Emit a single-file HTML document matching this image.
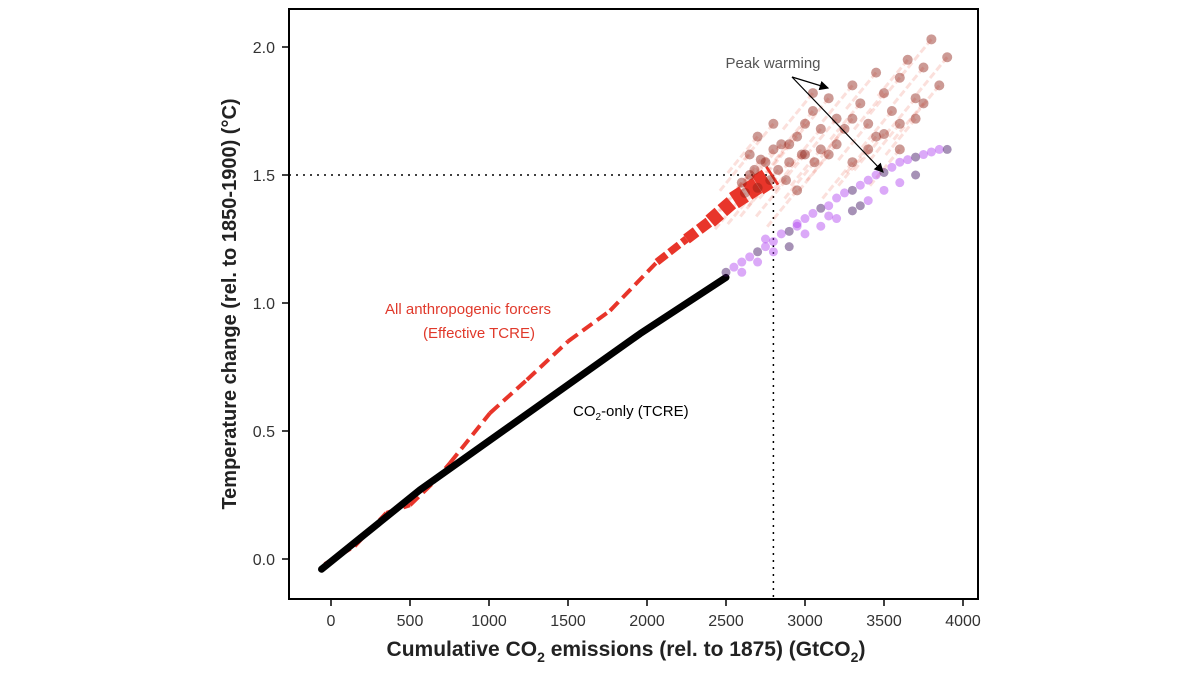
<!DOCTYPE html>
<html><head><meta charset="utf-8"><style>
body{margin:0;background:#fff;}
svg{display:block;font-family:"Liberation Sans",sans-serif;}
</style></head><body>
<svg id="c" width="1200" height="675">
<rect x="289" y="9" width="689" height="590" fill="none" stroke="#000" stroke-width="2"/>
<g id="ticks"></g>
<g id="marks"></g>
<text x="626" y="656" text-anchor="middle" font-size="21" font-weight="bold" fill="#222">Cumulative CO<tspan font-size="14" dy="6">2</tspan><tspan dy="-6"> emissions (rel. to 1875) (GtCO</tspan><tspan font-size="14" dy="6">2</tspan><tspan dy="-6">)</tspan></text>
<text transform="translate(236,304) rotate(-90)" text-anchor="middle" font-size="20" font-weight="bold" fill="#222">Temperature change (rel. to 1850-1900) (°C)</text>
<text x="468" y="314" text-anchor="middle" font-size="15" fill="#e0392b">All anthropogenic forcers</text>
<text x="479" y="338" text-anchor="middle" font-size="15" fill="#e0392b">(Effective TCRE)</text>
<text x="573" y="416" font-size="15" fill="#000">CO<tspan font-size="10" dy="4">2</tspan><tspan dy="-4">-only (TCRE)</tspan></text>
<text x="773" y="68" text-anchor="middle" font-size="15" fill="#555">Peak warming</text>
<defs><marker id="ah" markerWidth="8" markerHeight="8" refX="7" refY="4" orient="auto"><path d="M0,0L8,4L0,8z" fill="#000"/></marker></defs>
<line x1="792" y1="77" x2="828" y2="88" stroke="#000" stroke-width="1.2" marker-end="url(#ah)"/>
<line x1="792" y1="77" x2="883" y2="172" stroke="#000" stroke-width="1.2" marker-end="url(#ah)"/>
</svg>
<script>
const xTicks=[0,500,1000,1500,2000,2500,3000,3500,4000];
const yTicks=[0.0,0.5,1.0,1.5,2.0];
const co2X=[-60,563,1956,2500];
const co2Y=[-0.04,0.27,0.88,1.1];
const anthroX=[-40,150,350,500,650,753,1006,1240,1500,1766,2063,2250,2400,2550,2700,2800];
const anthroY=[-0.02,0.05,0.18,0.21,0.3,0.375,0.57,0.70,0.85,0.97,1.16,1.25,1.32,1.40,1.46,1.5];
const redDotX=[2600,2650,2700,2750,2800,2850,2900,2950,3000,3050,3100,3150,3200,3250,3300,3350,3400,3450,3500,3550,3600,3650,3700,3750,3800,3900,3850,2880,3000,3100,3200,3300,3400,3500,3600,3700,2700,2800,3050,3300,3450,3150,3600,3750,2950,2650,2620,2680,2720,2780,2830,2900,2980,3060];
const redDotY=[1.47,1.5,1.45,1.55,1.6,1.62,1.55,1.65,1.7,1.75,1.6,1.8,1.72,1.68,1.85,1.78,1.7,1.9,1.82,1.75,1.88,1.95,1.8,1.92,2.03,1.96,1.85,1.48,1.58,1.68,1.62,1.55,1.6,1.66,1.7,1.72,1.65,1.7,1.82,1.72,1.65,1.58,1.6,1.78,1.44,1.58,1.43,1.52,1.56,1.48,1.52,1.62,1.58,1.55];
const purpX=[2500,2550,2600,2650,2700,2750,2800,2850,2900,2950,3000,3050,3100,3150,3200,3250,3300,3350,3400,3450,3500,3550,3600,3650,3700,3750,3800,3850,3900,2600,2700,2800,2900,3000,3100,3200,3300,3400,3500,3600,3700,2750,2950,3150,3350];
const purpY=[1.12,1.14,1.16,1.18,1.2,1.22,1.24,1.27,1.28,1.31,1.33,1.35,1.37,1.38,1.41,1.43,1.44,1.46,1.48,1.5,1.51,1.53,1.55,1.56,1.57,1.58,1.59,1.6,1.6,1.12,1.16,1.2,1.22,1.27,1.3,1.33,1.36,1.4,1.44,1.47,1.5,1.25,1.3,1.34,1.38];
const refLineX=2800, refLineY=1.5;
const NS='http://www.w3.org/2000/svg';
const X=v=>331+v/500*79, Y=v=>559-v*256;
const T=document.getElementById('ticks'), M=document.getElementById('marks');
function mk(tag,attrs,parent){const e=document.createElementNS(NS,tag);for(const k in attrs)e.setAttribute(k,attrs[k]);parent.appendChild(e);return e;}
xTicks.forEach(t=>{
 const l=mk('line',{x1:X(t),x2:X(t),y1:599,y2:606,stroke:'#000','stroke-width':1.5},T);
 
 
 const s=mk('text',{x:X(t),y:626,'text-anchor':'middle','font-size':16,fill:'#333'},T);s.textContent=t;
 
 
});
yTicks.forEach(t=>{
 const l=mk('line',{x1:282,x2:289,y1:Y(t),y2:Y(t),stroke:'#000','stroke-width':1.5},T);
 
 
 const s=mk('text',{x:275,y:Y(t)+6,'text-anchor':'end','font-size':16,fill:'#333'},T);s.textContent=t.toFixed(1);
 
 
});
let h=mk('line',{x1:289,x2:X(refLineX),y1:Y(refLineY),y2:Y(refLineY),stroke:'#000','stroke-width':1.5,'stroke-dasharray':'2,5'},M);


let v=mk('line',{x1:X(refLineX),x2:X(refLineX),y1:Y(refLineY),y2:599,stroke:'#000','stroke-width':1.5,'stroke-dasharray':'2,5'},M);


redDotX.forEach((x,i)=>{
 const t=mk('line',{x1:X(x),y1:Y(redDotY[i]),x2:X(x-200),y2:Y(redDotY[i]-0.15),stroke:'#e8553f','stroke-width':3,'stroke-opacity':0.18,'stroke-dasharray':'7,3'},M);
 
 
});
for(let i=0;i<anthroX.length-1;i++){
 const w=i<10?4:4+(i-9)*3.5;
 const s=mk('line',{x1:X(anthroX[i]),y1:Y(anthroY[i]),x2:X(anthroX[i+1]),y2:Y(anthroY[i+1]),stroke:'#e8352a','stroke-width':w,'stroke-dasharray':i>9?'12,4':'12,6'},M);
 
 
}
const p=mk('polyline',{points:co2X.map((x,i)=>X(x)+','+Y(co2Y[i])).join(' '),fill:'none',stroke:'#000','stroke-width':7,'stroke-linecap':'round','stroke-linejoin':'round'},M);


purpX.forEach((x,i)=>{
 const c=mk('circle',{cx:X(x),cy:Y(purpY[i]),r:4.5,fill:i%4==0?'#3a0a5e':'#b040f0','fill-opacity':0.45},M);
 
 
});
redDotX.forEach((x,i)=>{
 const c=mk('circle',{cx:X(x),cy:Y(redDotY[i]),r:5,fill:'#8e1f14','fill-opacity':0.45},M);
 
 
});
</script>
</body></html>
